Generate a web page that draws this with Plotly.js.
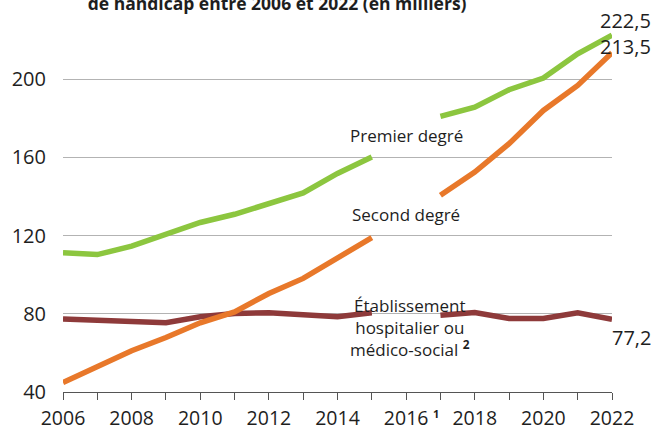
<!DOCTYPE html>
<html>
<head>
<meta charset="utf-8">
<script src="https://cdn.plot.ly/plotly-3.0.1.min.js"></script>
<style>html,body{margin:0;padding:0;background:#fff;}#chart{width:653px;height:431px;}</style>
</head>
<body>
<div id="chart"></div>
<script>
const years = [2006,2007,2008,2009,2010,2011,2012,2013,2014,2015,2016,2017,2018,2019,2020,2021,2022];
const premierDegre = [111.2,110.3,114.6,121.0,126.7,130.9,136.4,141.8,151.8,160.2,null,181.0,185.7,194.6,200.6,213.0,222.5];
const secondDegre = [44.8,53.0,61.1,67.9,75.4,81.0,90.4,98.1,108.4,119.0,null,140.6,152.5,167.0,184.0,196.8,213.5];
const etablissement = [77.3,76.8,76.2,75.4,78.5,80.2,80.5,79.8,78.5,80.5,null,79.3,80.7,77.6,77.6,80.5,77.2];
const tickYears = [2006,2008,2010,2012,2014,2016,2018,2020,2022];
const tickLabels = ['2006','2008','2010','2012','2014','2016','2018','2020','2022'];
const yTicks = [40,80,120,160,200];

const font = '"Open Sans", Lato, sans-serif';
const txt = '#1e1e1e';
function tr(y, color){
  return {x: years, y: y, type:'scatter', mode:'lines', connectgaps:false,
    line:{color:color, width:5.5}, hoverinfo:'skip'};
}
const data = [tr(etablissement,'#8e3a3a'), tr(secondDegre,'#e8782a'), tr(premierDegre,'#8cc63f')];

const layout = {
  width:653, height:431,
  margin:{l:63, r:41, t:1, b:39},
  paper_bgcolor:'#fff', plot_bgcolor:'#fff',
  showlegend:false,
  font:{family:font, color:txt},
  title:{text:'<b>de handicap entre 2006 et 2022 (en milliers)</b>', font:{size:17.5, family:font, color:txt},
    xref:'paper', x:0.39, xanchor:'center', yref:'container', y:0.99, yanchor:'middle'},
  xaxis:{range:[2006,2022], tickmode:'array', tickvals:tickYears, ticktext:tickLabels,
    ticks:'outside', ticklen:7, tickcolor:'#555', tickwidth:1, ticklabelstandoff:2,
    minor:{dtick:1, tick0:2006, ticks:'outside', ticklen:7, tickcolor:'#555', tickwidth:1, showgrid:false},
    showline:true, linecolor:'#555', linewidth:1, showgrid:false, zeroline:false,
    tickfont:{size:19.5, family:font, color:txt}},
  yaxis:{range:[40,240], tickmode:'array', tickvals:yTicks, ticks:'', showline:false,
    showgrid:true, gridcolor:'#b3b3b3', gridwidth:1, zeroline:false, ticklabelstandoff:16,
    tickfont:{size:20, family:font, color:txt}},
  annotations:[
    {x:2016, y:171.3, xref:'x', yref:'y', text:'Premier degré', showarrow:false, font:{size:17, family:font, color:txt}},
    {x:2016, y:130.9, xref:'x', yref:'y', text:'Second degré', showarrow:false, font:{size:17, family:font, color:txt}},
    {x:2016, y:73.2, xref:'x', yref:'y', text:'Établissement<br>hospitalier ou<br>médico-social <sup><b>2</b></sup>', showarrow:false, align:'center', font:{size:17, family:font, color:txt}, xshift:4},
    {x:2022, y:222.5, xref:'x', yref:'y', text:'222,5', showarrow:false, xanchor:'right', xshift:41, yshift:15, font:{size:20, family:font, color:txt}},
    {x:2022, y:213.5, xref:'x', yref:'y', text:'213,5', showarrow:false, xanchor:'right', xshift:41, yshift:6, font:{size:20, family:font, color:txt}},
    {x:2022, y:77.2, xref:'x', yref:'y', text:'77,2', showarrow:false, xanchor:'right', xshift:41, yshift:-18, font:{size:20, family:font, color:txt}},
    {x:2016, y:0, xref:'x', yref:'paper', text:'<b>1</b>', showarrow:false, xanchor:'left', yanchor:'middle', xshift:25, yshift:-21, font:{size:11, family:font, color:txt}}
  ]
};
Plotly.newPlot('chart', data, layout, {staticPlot:true, displayModeBar:false});
</script>
</body>
</html>
